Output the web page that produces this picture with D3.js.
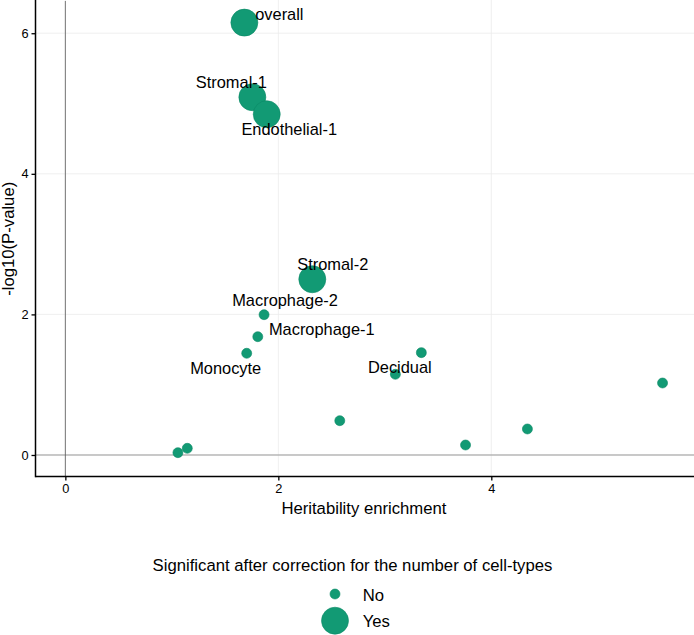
<!DOCTYPE html>
<html>
<head>
<meta charset="utf-8">
<script src="https://cdn.jsdelivr.net/npm/d3@7"></script>
<style>
  html, body { margin: 0; padding: 0; background: #fff; }
  svg { display: block; font-family: "Liberation Sans", Arial, sans-serif; }
</style>
</head>
<body>
<svg id="chart" width="694" height="635"></svg>
<script>
// ---- data ----
const cellTypes = ["overall","Stromal-1","Endothelial-1","Stromal-2","Macrophage-2","Macrophage-1","Monocyte","Decidual","","","","","","",""];
const enrichment = [1.681, 1.756, 1.891, 2.319, 1.866, 1.807, 1.703, 3.099, 3.343, 5.608, 2.577, 4.339, 3.758, 1.057, 1.145];
const negLogP   = [6.151, 5.090, 4.848, 2.500, 1.996, 1.683, 1.447, 1.148, 1.456, 1.024, 0.488, 0.370, 0.142, 0.033, 0.095];
const significant = ["Yes","Yes","Yes","Yes","No","No","No","No","No","No","No","No","No","No","No"];
const xTicks = [0, 2, 4];
const yTicks = [0, 2, 4, 6];
const legendLevels = ["No", "Yes"];
const legendTitle = "Significant after correction for the number of cell-types";
const xTitle = "Heritability enrichment";
const yTitle = "-log10(P-value)";

// label placement (repel-style offsets, px, relative to point)
const labelOffset = {
  "overall": [35, -2.7],
  "Stromal-1": [-21, -9.3],
  "Endothelial-1": [22.5, 20.7],
  "Stromal-2": [20.5, -9.3],
  "Macrophage-2": [21, -9],
  "Macrophage-1": [64, -1.7],
  "Monocyte": [-21, 20.7],
  "Decidual": [4.5, -1.3]
};

const data = cellTypes.map((c, i) => ({ name: c, x: enrichment[i], y: negLogP[i], sig: significant[i] }));

// ---- layout ----
const svg = d3.select("#chart");
const panel = { left: 35.5, right: 692.4, top: 1, bottom: 476.6 };
const col = "#129a74";
const fontSize = 16.4;
const titleSize = 16.7;

function expanded(vals) {
  const lo = Math.min(0, d3.min(vals)), hi = Math.max(0, d3.max(vals));
  const pad = (hi - lo) * 0.05;
  return [lo - pad, hi + pad];
}
const x = d3.scaleLinear().domain(expanded(enrichment)).range([panel.left, panel.right]);
const y = d3.scaleLinear().domain(expanded(negLogP)).range([panel.bottom, panel.top]);
const r = d3.scaleOrdinal().domain(legendLevels).range([5, 13.5]);

// grid
const g = svg.append("g");
g.selectAll(".gx").data(xTicks).enter().append("line")
  .attr("x1", d => x(d)).attr("x2", d => x(d))
  .attr("y1", panel.top - 1).attr("y2", panel.bottom)
  .attr("stroke", "#ebebeb").attr("stroke-width", 0.8);
g.selectAll(".gy").data(yTicks).enter().append("line")
  .attr("x1", panel.left).attr("x2", 694)
  .attr("y1", d => y(d)).attr("y2", d => y(d))
  .attr("stroke", "#ebebeb").attr("stroke-width", 0.8);

// reference lines
g.append("line").attr("x1", panel.left).attr("x2", 694)
  .attr("y1", y(0)).attr("y2", y(0)).attr("stroke", "#9a9a9a").attr("stroke-width", 1.1);
g.append("line").attr("x1", x(0)).attr("x2", x(0))
  .attr("y1", panel.top).attr("y2", panel.bottom).attr("stroke", "#555").attr("stroke-width", 0.8);

// axes
const xAxis = d3.axisBottom(x).tickValues(xTicks).tickSize(4).tickPadding(3).tickFormat(d3.format("d"));
const yAxis = d3.axisLeft(y).tickValues(yTicks).tickSize(4).tickPadding(3).tickFormat(d3.format("d"));
const gx = svg.append("g").attr("transform", `translate(0,${panel.bottom})`).call(xAxis);
const gy = svg.append("g").attr("transform", `translate(${panel.left},0)`).call(yAxis);
[gx, gy].forEach(a => {
  a.select(".domain").remove();
  a.selectAll(".tick line").attr("stroke", "#000").attr("stroke-width", 1.3);
  a.selectAll(".tick text").attr("fill", "#000").style("font-size", "12.8px").style("font-family", "Liberation Sans, Arial, sans-serif");
});
svg.append("line").attr("x1", panel.left).attr("x2", panel.right + 2)
  .attr("y1", panel.bottom).attr("y2", panel.bottom).attr("stroke", "#000").attr("stroke-width", 1.5);
svg.append("line").attr("x1", panel.left).attr("x2", panel.left)
  .attr("y1", 0).attr("y2", panel.bottom + 0.75).attr("stroke", "#000").attr("stroke-width", 1.5);

// points
svg.append("g").selectAll("circle").data(data).enter().append("circle")
  .attr("cx", d => x(d.x)).attr("cy", d => y(d.y)).attr("r", d => r(d.sig))
  .attr("fill", col).attr("stroke", "#0c8a66").attr("stroke-width", 0.6);

// labels
svg.append("g").selectAll("text").data(data.filter(d => d.name)).enter().append("text")
  .attr("x", d => x(d.x) + labelOffset[d.name][0])
  .attr("y", d => y(d.y) + labelOffset[d.name][1])
  .attr("text-anchor", "middle").style("font-size", fontSize + "px").attr("fill", "#000")
  .text(d => d.name);

// axis titles
svg.append("text").attr("x", (panel.left + panel.right) / 2).attr("y", 514)
  .attr("text-anchor", "middle").style("font-size", titleSize + "px").text(xTitle);
svg.append("text").attr("transform", `translate(13.5,${(panel.top + panel.bottom) / 2}) rotate(-90)`)
  .attr("text-anchor", "middle").style("font-size", titleSize + "px").text(yTitle);

// legend
svg.append("text").attr("x", 352.5).attr("y", 571).attr("text-anchor", "middle")
  .style("font-size", titleSize + "px").text(legendTitle);
const lg = svg.append("g").selectAll("g").data(legendLevels).enter().append("g")
  .attr("transform", (d, i) => `translate(335,${594 + i * 26.7})`);
lg.append("circle").attr("r", d => r(d)).attr("fill", col).attr("stroke", "#0c8a66").attr("stroke-width", 0.6);
lg.append("text").attr("x", 27.7).attr("y", 6.5).style("font-size", titleSize + "px").text(d => d);
</script>
</body>
</html>
